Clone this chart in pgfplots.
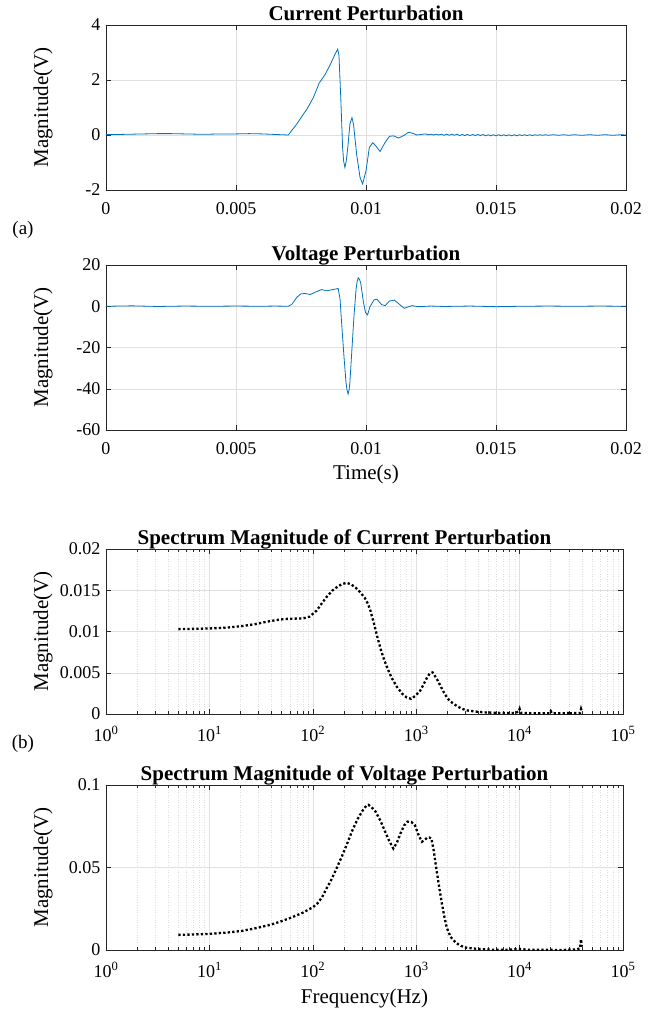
\documentclass[border=0pt]{standalone}
\usepackage{fontspec}
\setmainfont{Liberation Serif}
\usepackage{pgfplots}
\pgfplotsset{compat=1.18}
\usepackage{pgfplotstable}

\definecolor{mlblue}{RGB}{0,114,189}
\definecolor{mlaxis}{RGB}{38,38,38}
\definecolor{mlgrid}{RGB}{223,223,223}

% current perturbation, time domain
\pgfplotstableread{
t I
0 0.02
0.0005 0.02
0.001 0.03
0.0015 0.04
0.002 0.05
0.0025 0.05
0.003 0.04
0.0035 0.03
0.004 0.03
0.0045 0.04
0.005 0.04
0.0055 0.05
0.006 0.04
0.0065 0.02
0.00701 0.00
0.00733 0.39
0.00755 0.70
0.00772 0.93
0.00797 1.35
0.0082 1.89
0.00842 2.19
0.00862 2.55
0.00881 2.94
0.00891 3.12
0.00896 2.90
0.00903 1.35
0.0091 -0.45
0.00914 -0.95
0.00919 -1.18
0.00924 -0.95
0.0093 -0.45
0.00938 0.39
0.00946 0.63
0.00952 0.39
0.00964 -0.70
0.00977 -1.54
0.00987 -1.78
0.01000 -1.30
0.01013 -0.45
0.01026 -0.28
0.01038 -0.40
0.01054 -0.60
0.01073 -0.28
0.01090 -0.05
0.01105 -0.03
0.01126 -0.11
0.01145 -0.02
0.01164 0.10
0.01180 0.06
0.01196 0.00
0.01228 0.04
0.0124 0.01
0.0125 0.03
0.0126 0.00
0.0127 0.03
0.0128 0.00
0.0129 0.03
0.0130 -0.01
0.0131 0.03
0.0132 -0.01
0.0133 0.03
0.0134 -0.01
0.0135 0.03
0.0136 -0.02
0.0137 0.02
0.0138 -0.02
0.0139 0.02
0.0140 -0.02
0.0141 0.02
0.0142 -0.02
0.0143 0.02
0.0144 -0.02
0.0145 0.02
0.0146 -0.03
0.0147 0.01
0.0148 -0.03
0.0149 0.01
0.0150 -0.03
0.0151 0.01
0.0152 -0.03
0.0153 0.01
0.0154 -0.03
0.0155 0.01
0.0156 -0.03
0.0157 0.01
0.0158 -0.03
0.0159 0.01
0.0160 -0.02
0.0161 0.01
0.0162 -0.02
0.0163 0.01
0.0164 -0.02
0.0165 0.01
0.0166 -0.01
0.0167 0.01
0.0168 -0.01
0.0169 0.01
0.0170 -0.01
0.0172 0.01
0.0174 -0.01
0.0176 0.01
0.0178 -0.01
0.0180 0.01
0.0183 -0.01
0.0186 0.01
0.0189 -0.01
0.0192 0.01
0.0195 -0.01
0.0198 0.01
0.0200 0.00
}\curtime

% voltage perturbation, time domain
\pgfplotstableread{
t V
0 0
0.001 0.2
0.002 -0.1
0.003 0.1
0.004 0
0.005 0.1
0.006 0
0.0065 0.1
0.00701 0
0.00714 0.8
0.00733 4.2
0.00749 6.0
0.00765 6.2
0.00785 5.7
0.00808 7.0
0.0083 8.1
0.00849 7.5
0.00868 8.0
0.00885 8.4
0.00893 8.6
0.009 3.7
0.00906 -7.6
0.00915 -23.9
0.00923 -36.9
0.00927 -40.5
0.00931 -42.6
0.00935 -40.5
0.00938 -36.9
0.00946 -20.6
0.00954 -4.4
0.00962 8.6
0.00966 12.0
0.0097 13.8
0.00975 13.0
0.0098 11.1
0.0099 2.1
0.00998 -3.0
0.01006 -4.2
0.01015 -0.3
0.01031 3.1
0.01042 3.4
0.0106 0.8
0.01074 0.3
0.0109 2.5
0.01109 3.0
0.01128 1.0
0.01147 -1.0
0.01162 -0.3
0.01177 0.3
0.0120 -0.2
0.0125 0.1
0.013 -0.1
0.014 0.1
0.015 -0.2
0.016 0
0.017 0.1
0.018 0
0.019 0.1
0.02 0
}\voltime

% spectrum magnitude of the current perturbation
\pgfplotstableread{
f A
5 0.01029
7 0.01032
10 0.01037
15 0.01048
20.7 0.01066
28 0.01090
36 0.01119
45 0.01140
53.5 0.01152
65 0.01156
80 0.01158
93 0.01180
109 0.01254
122 0.01340
139 0.01434
156 0.01500
176 0.01549
195 0.01578
214 0.01590
235 0.01570
261 0.01529
290 0.01470
319 0.01406
340 0.01340
359 0.01262
390 0.01100
421 0.00934
455 0.00780
493 0.00648
535 0.00535
577 0.00443
650 0.00330
733 0.00246
810 0.00200
894 0.00184
980 0.00220
1089 0.00279
1180 0.00360
1277 0.00443
1350 0.00490
1438 0.00504
1520 0.00460
1622 0.00402
1750 0.00320
1898 0.00238
2100 0.00160
2405 0.00107
2700 0.00070
3053 0.00045
3700 0.00030
4540 0.00020
6000 0.00014
7310 0.00012
9000 0.00012
9800 0.00030
10000 0.00060
10200 0.00015
14000 0.00008
19500 0.00010
20000 0.00035
20500 0.00010
29500 0.00010
30000 0.00030
30500 0.00010
38500 0.00012
39300 0.00060
40000 0.00030
}\curspec

% spectrum magnitude of the voltage perturbation
\pgfplotstableread{
f A
5 0.00917
7 0.00940
10 0.00978
15 0.0106
20.7 0.0116
28 0.0132
39 0.0153
50 0.0175
62.8 0.0198
80 0.0226
100 0.0259
112 0.0285
123 0.0320
135 0.0370
150 0.0422
170 0.0495
190 0.0564
215 0.0645
242 0.0727
272 0.0795
306 0.0849
330 0.0875
345 0.0880
370 0.0865
404 0.0839
450 0.0785
493 0.0727
545 0.0665
601 0.0615
650 0.0650
705 0.0707
765 0.0755
826 0.0778
900 0.0775
968 0.0758
1050 0.0700
1134 0.0656
1200 0.0665
1277 0.0682
1340 0.0682
1404 0.0676
1480 0.0600
1556 0.0503
1650 0.0400
1753 0.0299
1860 0.0210
1974 0.0136
2150 0.0080
2405 0.0045
2700 0.0025
3053 0.0014
4000 0.0006
5320 0.0002
8000 0.0002
10000 0.0006
12000 0.0002
20000 0.0001
26000 0.0000
35500 0.0004
38500 0.0010
39000 0.0050
39300 0.0065
39600 0.0040
40000 0.0020
}\volspec

\pgfplotsset{
  panel/.style={
    scale only axis, width=520pt, height=165pt, anchor=north west,
    scaled x ticks=false, scaled y ticks=false,
    axis line style={mlaxis, line width=0.5pt},
    tick align=inside, major tick length=5pt, minor tick length=3pt,
    every tick/.style={mlaxis, line width=0.5pt},
    xmajorgrids, ymajorgrids,
    major grid style={mlgrid, line width=0.5pt},
    tick label style={font=\fontsize{18}{20}\selectfont},
    xticklabel style={yshift=-9pt},
    yticklabel style={xshift=-2pt},
    every axis title shift=0pt,
    title style={font=\bfseries\fontsize{21}{24}\selectfont, at={(0.5,1)}, anchor=base, yshift=5pt},
    every axis y label/.style={at={(axis description cs:0,0.5)}, rotate=90, anchor=center, yshift=63pt, font=\fontsize{21}{24}\selectfont},
    every axis x label/.style={at={(axis description cs:0.5,0)}, anchor=center, yshift=-44pt, font=\fontsize{21}{24}\selectfont},
    ylabel={Magnitude(V)},
  },
  timepanel/.style={
    panel, xmin=0, xmax=0.02,
    xtick={0,0.005,0.01,0.015,0.02},
    xticklabels={0,0.005,0.01,0.015,0.02},
  },
  logpanel/.style={
    panel, width=517pt, xmin=1, xmax=1e5,
    xtick={1,10,100,1000,10000,100000},
    xticklabels={10\textsuperscript{0},10\textsuperscript{1},10\textsuperscript{2},10\textsuperscript{3},10\textsuperscript{4},10\textsuperscript{5}},
    xminorgrids,
    minor grid style={mlgrid, line width=0.5pt, dotted},
    title style={xshift=-20pt},
  },
  dotline/.style={black, line width=2.3pt, dash pattern=on 2.3pt off 2.2pt, line cap=butt},
}

\begin{document}
\begin{tikzpicture}
\path[use as bounding box] (0,0) rectangle (657pt,-1013pt);

\begin{axis}[timepanel, at={(106pt,-25pt)}, ymin=-2, ymax=4,
  ytick={-2,0,2,4}, yticklabels={-2,0,2,4},
  title={Current Perturbation}]
\addplot[mlblue, line width=0.8pt] table[x=t, y=I] {\curtime};
\end{axis}

\node[font=\fontsize{19}{21}\selectfont] at (23pt,-230pt) {(a)};

\begin{axis}[timepanel, at={(106pt,-265pt)}, ymin=-60, ymax=20,
  ytick={-60,-40,-20,0,20}, yticklabels={-60,-40,-20,0,20},
  title={Voltage Perturbation}, xlabel={Time(s)}]
\addplot[mlblue, line width=0.8pt] table[x=t, y=V] {\voltime};
\end{axis}

\begin{semilogxaxis}[logpanel, at={(106pt,-549pt)}, ymin=0, ymax=0.02,
  ytick={0,0.005,0.01,0.015,0.02}, yticklabels={0,0.005,0.01,0.015,0.02},
  title={Spectrum Magnitude of Current Perturbation}]
\addplot[dotline] table[x=f, y=A] {\curspec};
\end{semilogxaxis}

\node[font=\fontsize{19}{21}\selectfont] at (23pt,-744pt) {(b)};

\begin{semilogxaxis}[logpanel, at={(106pt,-785pt)}, ymin=0, ymax=0.1,
  ytick={0,0.05,0.1}, yticklabels={0,0.05,0.1},
  title={Spectrum Magnitude of Voltage Perturbation}, xlabel={Frequency(Hz)},
  every axis x label/.append style={yshift=-4pt}]
\addplot[dotline] table[x=f, y=A] {\volspec};
\end{semilogxaxis}
\end{tikzpicture}
\end{document}
